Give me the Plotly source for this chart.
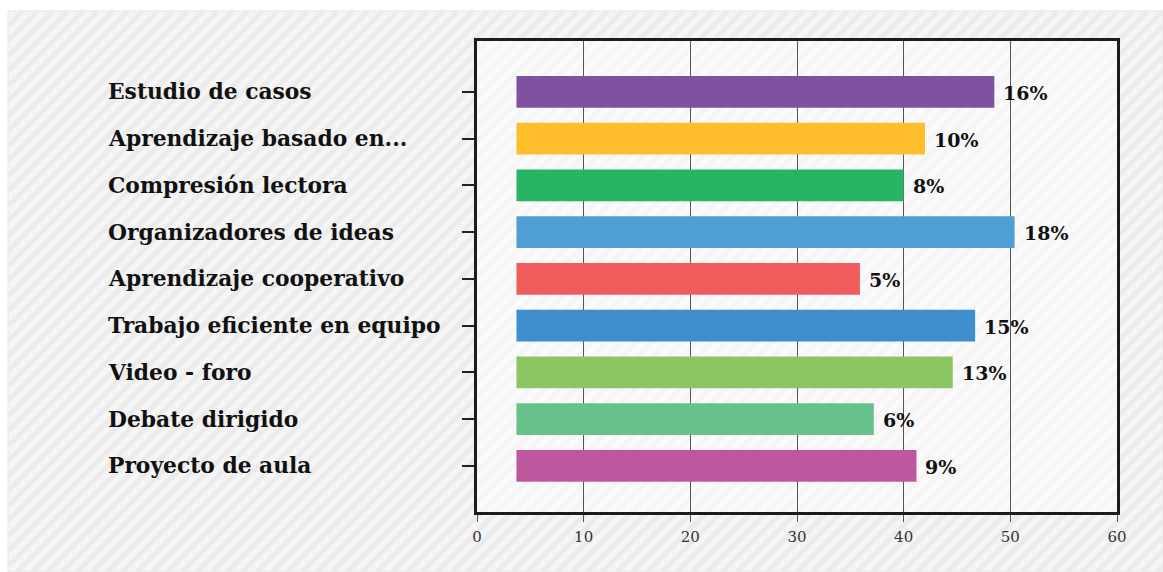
import plotly.graph_objects as go

# Estrategias didácticas (de arriba hacia abajo)
categorias = [
    "Estudio de casos",
    "Aprendizaje basado en...",
    "Compresión lectora",
    "Organizadores de ideas",
    "Aprendizaje cooperativo",
    "Trabajo eficiente en equipo",
    "Video - foro",
    "Debate dirigido",
    "Proyecto de aula",
]
inicio_barra = 3.7
fin_barra = [48.5, 42.0, 40.0, 50.4, 35.9, 46.7, 44.6, 37.2, 41.2]
etiquetas = ["16%", "10%", "8%", "18%", "5%", "15%", "13%", "6%", "9%"]
colores = ["#7E52A0", "#FEBD2A", "#27B463", "#4F9ED6", "#F05B5C",
           "#3D8ECE", "#8BC663", "#66C18A", "#BD589F"]
ticks_x = [0, 10, 20, 30, 40, 50, 60]

W, H = 1163, 572
ML, MR, MT, MB = 477, 46, 41, 60
PW, PH = W - ML - MR, H - MT - MB


def px(x):
    return (x - ML) / PW


def py(y):
    return (H - MB - y) / PH


fig = go.Figure()
fig.add_trace(go.Bar(
    y=categorias,
    x=[f - inicio_barra for f in fin_barra],
    base=inicio_barra,
    orientation="h",
    marker=dict(color=colores, line=dict(width=0)),
    width=0.68,
    hoverinfo="skip",
))

shapes = []
# gray panel with diagonal stripes behind everything
x0p, y0p, x1p, y1p = 8, 11, W, H
shapes.append(dict(type="rect", xref="paper", yref="paper",
                   x0=px(x0p), x1=px(x1p), y0=py(y0p), y1=py(y1p),
                   fillcolor="#f5f5f5", line=dict(color="#e6e6e6", width=1),
                   layer="below"))
segs = []
step = 15
c = x0p + y0p
while c < x1p + y1p:
    xa = max(x0p, c - y1p)
    xb = min(x1p, c - y0p)
    if xb > xa:
        segs.append(f"M{px(xa):.5f},{py(c - xa):.5f}L{px(xb):.5f},{py(c - xb):.5f}")
    c += step
shapes.append(dict(type="path", xref="paper", yref="paper", path="".join(segs),
                   line=dict(color="#ebebeb", width=5), layer="below"))
# lighter plotting area
shapes.append(dict(type="rect", xref="paper", yref="paper", x0=0, x1=1, y0=0, y1=1,
                   fillcolor="rgba(255,255,255,0.5)", line=dict(width=0), layer="below"))

annotations = []
for cat in categorias:
    annotations.append(dict(
        x=px(106), xref="paper", y=cat, yref="y", text=cat, showarrow=False,
        xanchor="left", yanchor="middle",
        font=dict(family="DejaVu Serif", size=21.8, color="#111111", weight="bold"),
    ))
for cat, f, lab in zip(categorias, fin_barra, etiquetas):
    annotations.append(dict(
        x=f, y=cat, xref="x", yref="y", text=lab, showarrow=False,
        xanchor="left", yanchor="middle", xshift=7, yshift=-1,
        font=dict(family="DejaVu Serif", size=19, color="#111111", weight="bold"),
    ))

fig.update_layout(
    width=W, height=H,
    margin=dict(l=ML, r=MR, t=MT, b=MB, pad=0),
    paper_bgcolor="white",
    plot_bgcolor="rgba(0,0,0,0)",
    showlegend=False,
    shapes=shapes,
    annotations=annotations,
    xaxis=dict(
        range=[0, 60], tickvals=ticks_x, ticktext=[str(t) for t in ticks_x],
        showgrid=True, gridcolor="#555555", gridwidth=1.2,
        zeroline=False,
        showline=True, linecolor="#1c1c1c", linewidth=3, mirror=True,
        ticks="outside", ticklen=7, tickwidth=1, tickcolor="#555555",
        ticklabelstandoff=2,
        tickfont=dict(family="DejaVu Serif", size=15, color="#333333"),
    ),
    yaxis=dict(
        categoryorder="array", categoryarray=categorias[::-1],
        range=[-0.988, 9.087],
        showgrid=False, zeroline=False,
        showline=True, linecolor="#1c1c1c", linewidth=3, mirror=True,
        ticks="outside", ticklen=12, tickwidth=1.5, tickcolor="#222222",
        showticklabels=False,
    ),
)

fig.write_html("out.html")
